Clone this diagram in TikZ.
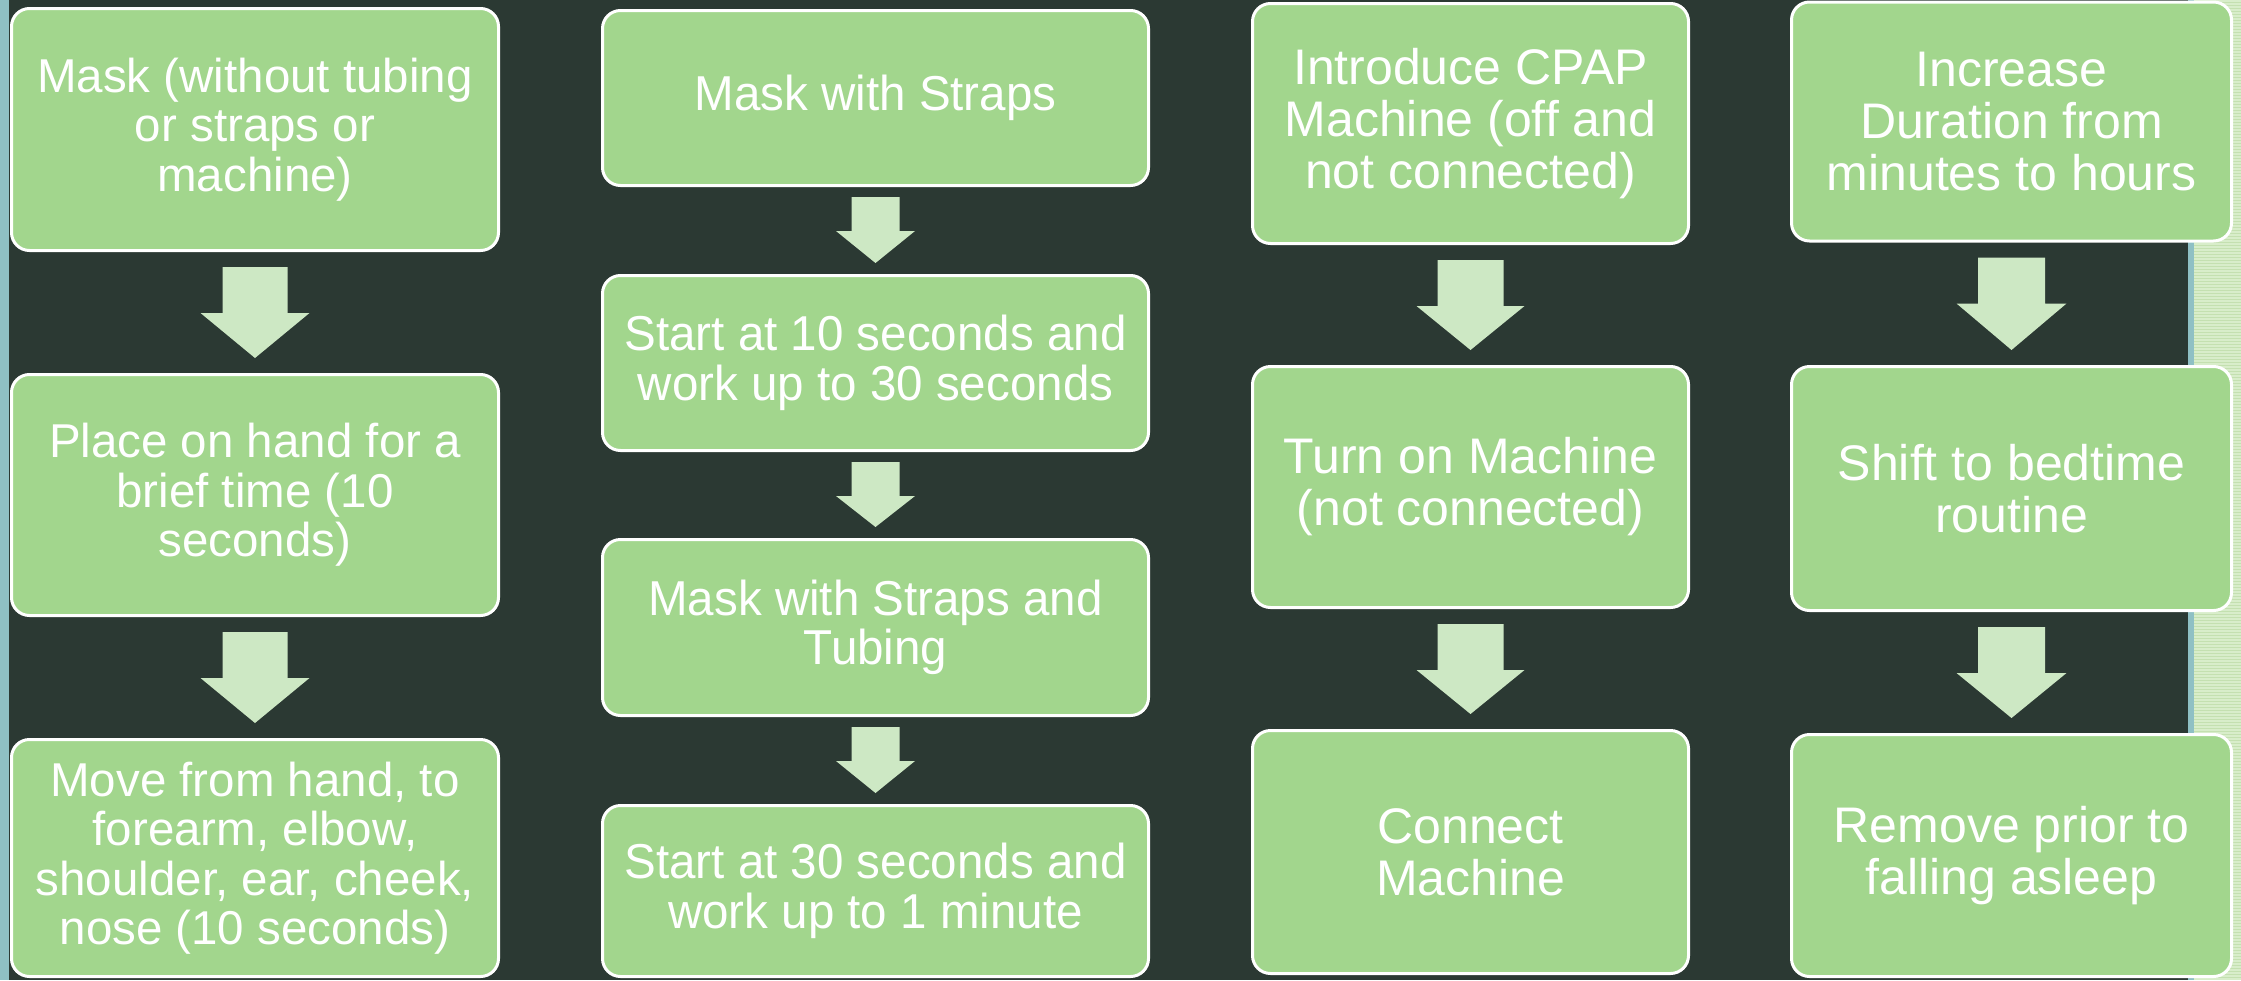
\documentclass[tikz,border=0pt]{standalone}
\usepackage{fontspec}
\setmainfont{Liberation Sans}
\newfontfamily\narrowfont[FakeStretch=0.97]{Liberation Sans}
\usetikzlibrary{calc}
\definecolor{bgdark}{RGB}{43,57,51}
\definecolor{boxgreen}{RGB}{162,214,141}
\definecolor{arrowgreen}{RGB}{205,232,196}
\definecolor{edgeteal}{RGB}{143,192,196}
\definecolor{stripegreen}{RGB}{196,224,176}
\definecolor{stripelight}{RGB}{216,237,202}
\tikzset{
  stepbox/.style={draw=white, line width=3pt, fill=boxgreen, rounded corners=18pt,
    text=white, align=center, inner sep=0pt},
  colA/.style={font=\fontsize{47.5}{49.5}\selectfont, minimum width=487pt},
  colB/.style={font=\narrowfont\fontsize{49}{49.5}\selectfont, minimum width=546pt},
  colC/.style={font=\fontsize{50}{52}\selectfont, minimum width=436pt},
  colD/.style={font=\fontsize{50}{52}\selectfont, minimum width=440pt},
  arrowfill/.style={fill=arrowgreen, draw=none}
}
% #1 from, #2 to, #3 shaft half width, #4 head half width, #5 gap above shaft, #6 shaft length, #7 gap below tip
\newcommand\flowarrow[7]{%
  \path[arrowfill] ($(#1.south)+(-#3,#5)$) -- ($(#1.south)+(#3,#5)$)
    -- ($(#1.south)+(#3,#5+#6)$) -- ($(#1.south)+(#4,#5+#6)$)
    -- ($(#2.north)+(0,-#7)$)
    -- ($(#1.south)+(-#4,#5+#6)$) -- ($(#1.south)+(-#3,#5+#6)$) -- cycle;}
\begin{document}
\begin{tikzpicture}[x=1pt,y=-1pt]
\useasboundingbox (0,0) rectangle (2241,980);
\fill[bgdark] (0,0) rectangle (2241,980);
\fill[edgeteal] (0,0) rectangle (9,980);
\fill[edgeteal] (2188,0) rectangle (2194,980);
\fill[stripegreen] (2194,0) rectangle (2241,980);
\foreach \yy in {1,4,...,980} \draw[stripelight, line width=1.2pt] (2194,\yy) -- (2241,\yy);

% column 1
\node[stepbox, colA, minimum height=242pt] (a1) at (255,129.5) {Mask (without tubing\\or straps or\\machine)};
\node[stepbox, colA, minimum height=241pt] (a2) at (255,495) {Place on hand for a\\brief time (10\\seconds)};
\node[stepbox, colA, minimum height=237pt] (a3) at (255,858) {Move from hand, to\\forearm, elbow,\\shoulder, ear, cheek,\\nose (10 seconds)};

% column 2
\node[stepbox, colB, minimum height=175pt] (b1) at (875.5,98) {Mask with Straps};
\node[stepbox, colB, minimum height=175pt] (b2) at (875.5,363) {Start at 10 seconds and\\work up to 30 seconds};
\node[stepbox, colB, minimum height=176pt] (b3) at (875.5,627.5) {Mask with Straps and\\Tubing};
\node[stepbox, colB, minimum height=171pt] (b4) at (875.5,891) {Start at 30 seconds and\\work up to 1 minute};

% column 3
\node[stepbox, colC, minimum height=240pt] (c1) at (1470.5,123.5) {Introduce CPAP\\Machine (off and\\not connected)};
\node[stepbox, colC, minimum height=241pt] (c2) at (1470.5,487) {Turn on Machine\\(not connected)};
\node[stepbox, colC, minimum height=243pt] (c3) at (1470.5,852) {Connect\\Machine};

% column 4
\node[stepbox, colD, minimum height=239pt] (d1) at (2011.5,121.5) {Increase\\Duration from\\minutes to hours};
\node[stepbox, colD, minimum height=244pt] (d2) at (2011.5,488.5) {Shift to bedtime\\routine};
\node[stepbox, colD, minimum height=242pt] (d3) at (2011.5,855.5) {Remove prior to\\falling asleep};

% connectors
\flowarrow{a1}{a2}{32.5}{54.5}{15}{46}{15}
\flowarrow{a2}{a3}{32.5}{54.5}{15}{46}{15}
\flowarrow{b1}{b2}{24}{39.5}{10}{34}{11}
\flowarrow{b2}{b3}{24}{39.5}{10}{34}{11}
\flowarrow{b3}{b4}{24}{39.5}{10}{34}{11}
\flowarrow{c1}{c2}{33}{54}{15}{46}{15}
\flowarrow{c2}{c3}{33}{54}{15}{46}{15}
\flowarrow{d1}{d2}{33.5}{55}{15}{46}{15}
\flowarrow{d2}{d3}{33.5}{55}{15}{46}{15}
\end{tikzpicture}
\end{document}
